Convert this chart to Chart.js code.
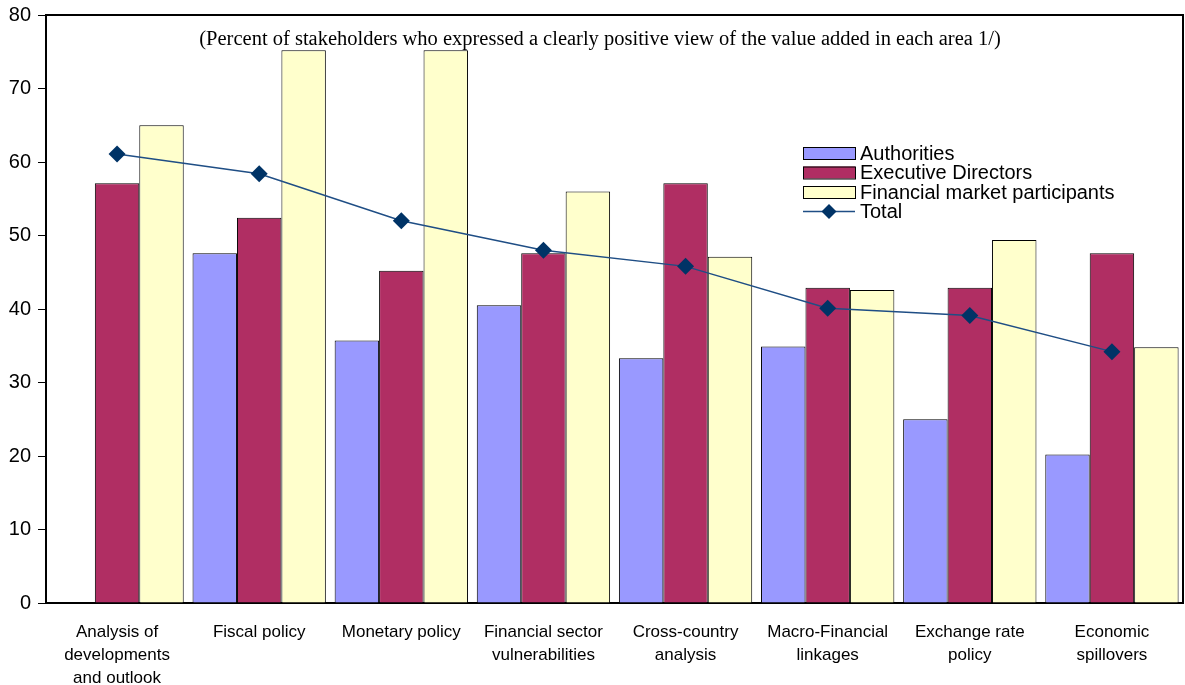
<!DOCTYPE html>
<html>
<head>
<meta charset="utf-8">
<script src="https://cdn.jsdelivr.net/npm/chart.js@4.4.0/dist/chart.umd.min.js"></script>
<style>
  html, body { margin: 0; padding: 0; background: #fff; }
  #wrap { width: 1185px; height: 685px; position: relative; }
</style>
</head>
<body>
<div id="wrap"><canvas id="c" width="1185" height="685"></canvas></div>
<script>
const categories = [
  ['Analysis of', 'developments', 'and outlook'],
  'Fiscal policy',
  'Monetary policy',
  ['Financial sector', 'vulnerabilities'],
  ['Cross-country', 'analysis'],
  ['Macro-Financial', 'linkages'],
  ['Exchange rate', 'policy'],
  ['Economic', 'spillovers']
];
const authorities        = [null, 47.6, 35.7, 40.5, 33.3, 34.9, 25.0, 20.2];
const executiveDirectors = [57.1, 52.4, 45.2, 47.6, 57.1, 42.9, 42.9, 47.6];
const marketParticipants = [65.0, 75.2, 75.2, 56.0, 47.1, 42.6, 49.4, 34.8];
const total              = [61.1, 58.4, 52.0, 48.0, 45.8, 40.1, 39.1, 34.2];
const yTicks = { min: 0, max: 80, step: 10 };
const subtitle = '(Percent of stakeholders who expressed a clearly positive view of the value added in each area 1/)';

const frame = {
  id: 'frame',
  afterDatasetsDraw(chart) {
    const { ctx, chartArea: a } = chart;
    ctx.save();
    ctx.strokeStyle = '#000';
    ctx.lineWidth = 2;
    ctx.beginPath();
    ctx.moveTo(a.left, a.top);
    ctx.lineTo(a.right, a.top);
    ctx.lineTo(a.right, a.bottom);
    ctx.stroke();
    // subtitle
    ctx.fillStyle = '#000';
    ctx.font = '20.5px "Liberation Serif", "Times New Roman", serif';
    ctx.textAlign = 'center';
    ctx.textBaseline = 'middle';
    ctx.fillText(subtitle, 600, 40);
    // legend
    const x0 = 803, w = 52, h = 12, tx = 860;
    const rows = [153, 172.5, 192, 211.5];
    ctx.font = '20px "Liberation Sans", Arial, sans-serif';
    ctx.textAlign = 'left';
    chart.data.datasets.forEach((ds, i) => {
      const cy = rows[i];
      if (ds.type === 'line') {
        ctx.strokeStyle = ds.borderColor;
        ctx.lineWidth = 1.5;
        ctx.beginPath();
        ctx.moveTo(x0, cy); ctx.lineTo(x0 + w, cy); ctx.stroke();
        ctx.fillStyle = ds.pointBackgroundColor;
        const r = 7.5, cx = x0 + w / 2;
        ctx.beginPath();
        ctx.moveTo(cx, cy - r); ctx.lineTo(cx + r, cy); ctx.lineTo(cx, cy + r); ctx.lineTo(cx - r, cy);
        ctx.closePath(); ctx.fill();
      } else {
        ctx.fillStyle = ds.backgroundColor;
        ctx.fillRect(x0, cy - h / 2, w, h);
        ctx.strokeStyle = '#000';
        ctx.lineWidth = 1;
        ctx.strokeRect(x0 + 0.5, cy - h / 2 + 0.5, w, h);
      }
      ctx.fillStyle = '#000';
      ctx.fillText(ds.label, tx, cy + 1);
    });
    ctx.restore();
  }
};

new Chart(document.getElementById('c'), {
  type: 'bar',
  data: {
    labels: categories,
    datasets: [
      { label: 'Authorities', data: authorities, backgroundColor: '#9999FF', borderColor: '#000', borderWidth: 1, order: 1 },
      { label: 'Executive Directors', data: executiveDirectors, backgroundColor: '#B02E63', borderColor: '#000', borderWidth: 1, order: 1 },
      { label: 'Financial market participants', data: marketParticipants, backgroundColor: '#FFFFCC', borderColor: '#000', borderWidth: 1, order: 1 },
      { type: 'line', label: 'Total', data: total, borderColor: '#1F4E85', borderWidth: 1.5,
        pointStyle: 'rectRot', pointRadius: 8.5, pointHoverRadius: 8.5,
        pointBackgroundColor: '#003366', pointBorderColor: '#003366', pointBorderWidth: 0,
        tension: 0, order: 0, fill: false }
    ]
  },
  options: {
    responsive: false,
    animation: false,
    events: [],
    layout: { autoPadding: false, padding: { top: 15, right: 2, left: 0, bottom: 0 } },
    datasets: { bar: { categoryPercentage: 0.938, barPercentage: 1.0 } },
    plugins: { legend: { display: false }, tooltip: { enabled: false }, title: { display: false } },
    scales: {
      x: {
        grid: { display: false },
        border: { display: true, color: '#000', width: 2 },
        ticks: { color: '#000', font: { family: '"Liberation Sans", Arial, sans-serif', size: 17, lineHeight: 1.36 }, padding: 10, maxRotation: 0, autoSkip: false },
        afterFit(s) { s.height = 82; s.paddingLeft = 0; s.paddingRight = 0; }
      },
      y: {
        min: yTicks.min, max: yTicks.max,
        grid: { drawOnChartArea: false, drawTicks: true, tickLength: 8, color: '#000', lineWidth: 1 },
        border: { display: true, color: '#000', width: 2 },
        ticks: { stepSize: yTicks.step, color: '#000', font: { family: '"Liberation Sans", Arial, sans-serif', size: 20 }, padding: 7 },
        afterFit(s) { s.width = 46; s.paddingTop = 0; s.paddingBottom = 0; }
      }
    }
  },
  plugins: [frame]
});
</script>
</body>
</html>
